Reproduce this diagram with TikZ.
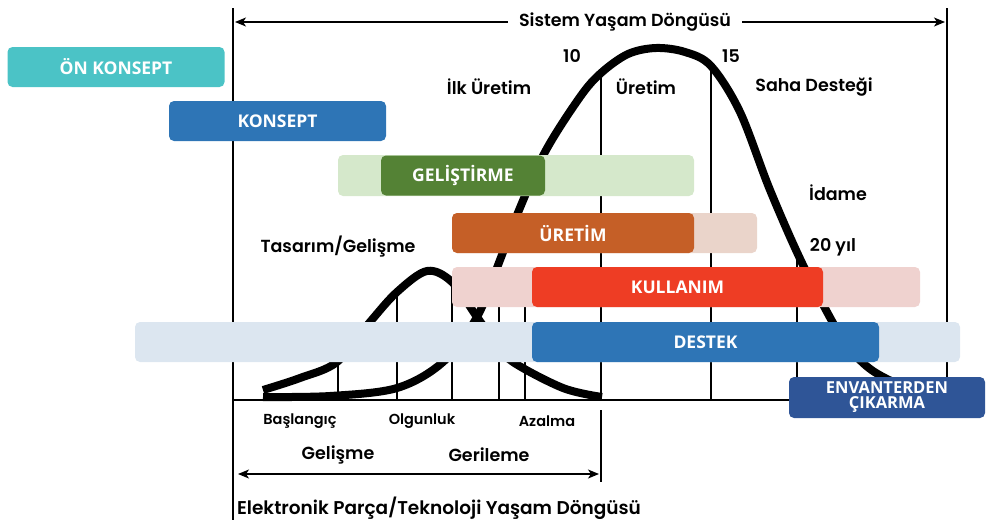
\documentclass[tikz,border=0pt]{standalone}
\usepackage{fontspec}
\setmainfont{Poppins}[BoldFont={Poppins SemiBold}]
\newfontfamily\barfont{Open Sans}
\usetikzlibrary{arrows.meta}
\definecolor{onkonsept}{HTML}{4BC3C6}
\definecolor{konsept}{HTML}{2E75B6}
\definecolor{gelisL}{HTML}{D5E8CB}
\definecolor{gelisD}{HTML}{548235}
\definecolor{uretimL}{HTML}{EAD4CA}
\definecolor{uretimD}{HTML}{C55F27}
\definecolor{kullL}{HTML}{EFD2CF}
\definecolor{kullD}{HTML}{EE3D24}
\definecolor{destekL}{HTML}{DCE6F0}
\definecolor{destekD}{HTML}{2E75B6}
\definecolor{envanter}{HTML}{2F5597}

\begin{document}
\begin{tikzpicture}[x=1pt,y=-1pt,
  bar/.style={rounded corners=5pt,minimum height=40pt,inner sep=0pt,text=white,font=\barfont\bfseries\fontsize{17.5}{17.5}\selectfont},
  lbl/.style={inner sep=0pt,font=\bfseries\fontsize{17.5}{17.5}\selectfont},
  sml/.style={inner sep=0pt,font=\bfseries\fontsize{14.5}{14.5}\selectfont},
  tip/.style={-{Stealth[length=11pt,width=9pt,inset=3pt]},line width=1.6pt},
  tips/.style={{Stealth[length=11pt,width=9pt,inset=3pt]}-{Stealth[length=11pt,width=9pt,inset=3pt]},line width=1.6pt}]
\useasboundingbox (0,0) rectangle (989,520);

\draw[line width=2pt] (233,8) -- (233,520);
\draw[line width=2pt] (947,8) -- (947,400);
\draw[line width=2pt] (233,400) -- (947,400);
\foreach \x/\t in {338/340,397/290,452/280,499/280,525/280,601/72,711/66,797/252}
  \draw[line width=1.5pt] (\x,\t) -- (\x,400);
\draw[line width=1.5pt] (601,410) -- (601,482);

\draw[line width=8pt] plot[smooth,tension=0.55] coordinates {(263,397) (330,396) (397,388) (443,362) (477,317) (500,260) (517,215) (545,152) (580,97) (601,73) (628,54) (656,48) (685,52) (711,66) (740,112) (770,190) (803,265) (840,335) (863,363) (887,379) (930,397)};
\draw[line width=8pt] plot[smooth,tension=0.55] coordinates {(263,390) (300,378) (337,362) (370,322) (397,292) (427,271) (452,282) (477,317) (495,342) (513,362) (563,388) (602,397)};

\node[bar,fill=onkonsept,minimum width=217pt] (onk) at (116,67) {ÖN KONSEPT};
\node[bar,fill=konsept,minimum width=217pt] (kon) at (277.5,121) {KONSEPT};
\fill[gelisL,rounded corners=5pt] (338,155) rectangle (694,196);
\node[bar,fill=gelisD,minimum width=164pt] (gel) at (463,175.5) {GELİŞTİRME};
\fill[uretimL,rounded corners=5pt] (452,213) rectangle (757,253);
\node[bar,fill=uretimD,minimum width=242pt] (ure) at (573,233) {ÜRETİM};
\fill[kullL,rounded corners=5pt] (452,267) rectangle (920,307);
\node[bar,fill=kullD,minimum width=291pt] (kul) at (677.5,287) {KULLANIM};
\fill[destekL,rounded corners=5pt] (135,322) rectangle (960,362);
\node[bar,fill=destekD,minimum width=347pt] (des) at (705.5,342) {DESTEK};
\node[bar,fill=envanter,minimum width=196pt,minimum height=41pt,align=center,font=\barfont\bfseries\fontsize{16.5}{15}\selectfont] (env) at (887,397.5) {ENVANTERDEN\\ÇIKARMA};

\node[lbl,fill=white,inner xsep=11pt,inner ysep=2pt] (sys) at (625,22) {Sistem Yaşam Döngüsü};
\coordinate (sysL) at (235,22);
\coordinate (sysR) at (945,22);
\draw[tip] (sys.west) -- (sysL);
\draw[tip] (sys.east) -- (sysR);

\node[lbl] (t10) at (572,56) {10};
\node[lbl] (t15) at (731,56) {15};
\node[lbl] (ilk) at (489,87) {İlk Üretim};
\node[lbl] (ur) at (646,87) {Üretim};
\node[lbl] (saha) at (814,87) {Saha Desteği};
\node[lbl] (idame) at (838,193) {İdame};
\node[lbl] (yil) at (833,247) {20 yıl};
\node[lbl] (tas) at (338,247) {Tasarım/Gelişme};
\node[sml] (bas) at (300,421) {Başlangıç};
\node[sml] (olg) at (422,421) {Olgunluk};
\node[sml] (aza) at (547,421) {Azalma};
\node[lbl] (gelm) at (338,455) {Gelişme};
\node[lbl] (ger) at (489,455) {Gerileme};
\coordinate (elL) at (238,474);
\coordinate (elR) at (599,474);
\draw[tips] (elL) -- (elR);
\node[lbl,font=\bfseries\fontsize{18.5}{18.5}\selectfont] (ept) at (439,508) {Elektronik Parça/Teknoloji Yaşam Döngüsü};
\end{tikzpicture}
\end{document}
